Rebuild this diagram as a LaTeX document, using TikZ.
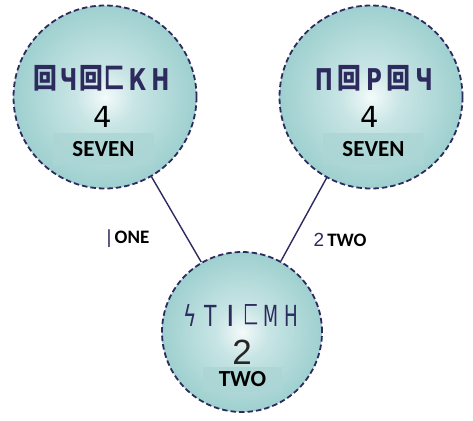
\documentclass[tikz,border=0pt]{standalone}
\usepackage{fontspec}
\setmainfont{Carlito}
\newfontfamily\glf{DejaVu Sans}
\newfontfamily\cjkf{Noto Sans CJK SC}
\newfontfamily\lsf{Liberation Sans}
\definecolor{navy}{HTML}{2D2A5E}
\definecolor{cin}{HTML}{F4FAFA}
\definecolor{cmid}{HTML}{C9E5E5}
\definecolor{cout}{HTML}{9ED0CF}
\definecolor{band}{HTML}{ACD6D5}
\pgfdeclareradialshading{ball}{\pgfpoint{0bp}{0bp}}{color(0bp)=(cin); color(8bp)=(cmid); color(25bp)=(cout); color(50bp)=(cout)}
\newcommand\gbox[2]{\makebox[#1]{#2}}
\newcommand\nar[1]{\scalebox{0.72}[1]{#1}}
\newcommand\sq{\raisebox{2pt}{\cjkf\bfseries\fontsize{28}{28}\selectfont\scalebox{0.85}[1]{回}}}
\newcommand\sqc{\raisebox{2pt}{\cjkf\bfseries\fontsize{28}{28}\selectfont\scalebox{0.72}[1]{匚}}}
\newcommand\sqt{\raisebox{1.8pt}{\cjkf\fontsize{26}{26}\selectfont\scalebox{0.6}[1]{匚}}}
\tikzset{
  bubble/.style={circle, draw=navy, line width=1.8pt, dash pattern=on 5.5pt off 3pt, shading=ball, inner sep=0pt},
  conn/.style={draw=navy, line width=1.4pt},
  glyphs/.style={text=navy, font=\glf\bfseries\fontsize{30}{30}\selectfont, inner sep=0pt},
  numer/.style={text=black, font=\glf\fontsize{29}{29}\selectfont, inner sep=0pt},
  band/.style={fill=band, fill opacity=0.85, text opacity=1, inner sep=0pt, font=\bfseries\fontsize{23}{23}\selectfont},
  lab/.style={font=\bfseries\fontsize{19}{19}\selectfont, inner sep=0pt}
}
\begin{document}
\begin{tikzpicture}[x=1pt,y=-1pt]
\useasboundingbox (0,0) rectangle (473,420);
\node[bubble, minimum size=183pt] (L) at (105,97) {};
\node[bubble, minimum size=183pt] (R) at (371,97) {};
\node[bubble, minimum size=160pt] (B) at (242,332) {};
\draw[conn] (L) -- (B);
\draw[conn] (R) -- (B);
% left circle
\node[glyphs] (Lg) at (103,78) {\gbox{23pt}{\sq}\gbox{23pt}{\nar{Ч}}\gbox{23pt}{\sq}\gbox{23pt}{\sqc}\gbox{23pt}{\nar{К}}\gbox{23pt}{\nar{Н}}};
\node[numer] (Ln) at (103,117) {4};
\node[band, minimum width=101pt, minimum height=32pt] (Lb) at (103.5,149) {SEVEN};
% right circle
\node[glyphs] (Rg) at (374,78) {\gbox{25pt}{\nar{П}}\gbox{25pt}{\sq}\gbox{25pt}{\nar{Ρ}}\gbox{25pt}{\reflectbox{\sq}}\gbox{25pt}{\nar{Ч}}};
\node[numer] (Rn) at (370,117) {4};
\node[band, minimum width=101pt, minimum height=32pt] (Rb) at (373.5,149) {SEVEN};
% bottom circle
\node[glyphs, font=\glf\fontsize{29}{29}\selectfont] (Bg) at (241,315) {\gbox{20.3pt}{\scalebox{0.7}[1]{ϟ}}\gbox{20.3pt}{\scalebox{0.7}[1]{Τ}}\gbox{20.3pt}{Ι}\gbox{20.3pt}{\sqt}\gbox{20.3pt}{\scalebox{0.6}[1]{Μ}}\gbox{20.3pt}{\scalebox{0.63}[1]{Η}}};
\node[numer, font=\lsf\fontsize{35}{35}\selectfont, text=black!85] (Bn) at (242,352) {2};
\node[band, minimum width=79pt, minimum height=25pt] (Bb) at (242.5,379.5) {TWO};
% edge labels
\node[lab] (l1) at (128,239) {{\lsf\mdseries\color{navy}|}\,ONE};
\node[lab] (l2) at (340,240) {{\lsf\mdseries\color{navy}2}\,TWO};
\end{tikzpicture}
\end{document}
